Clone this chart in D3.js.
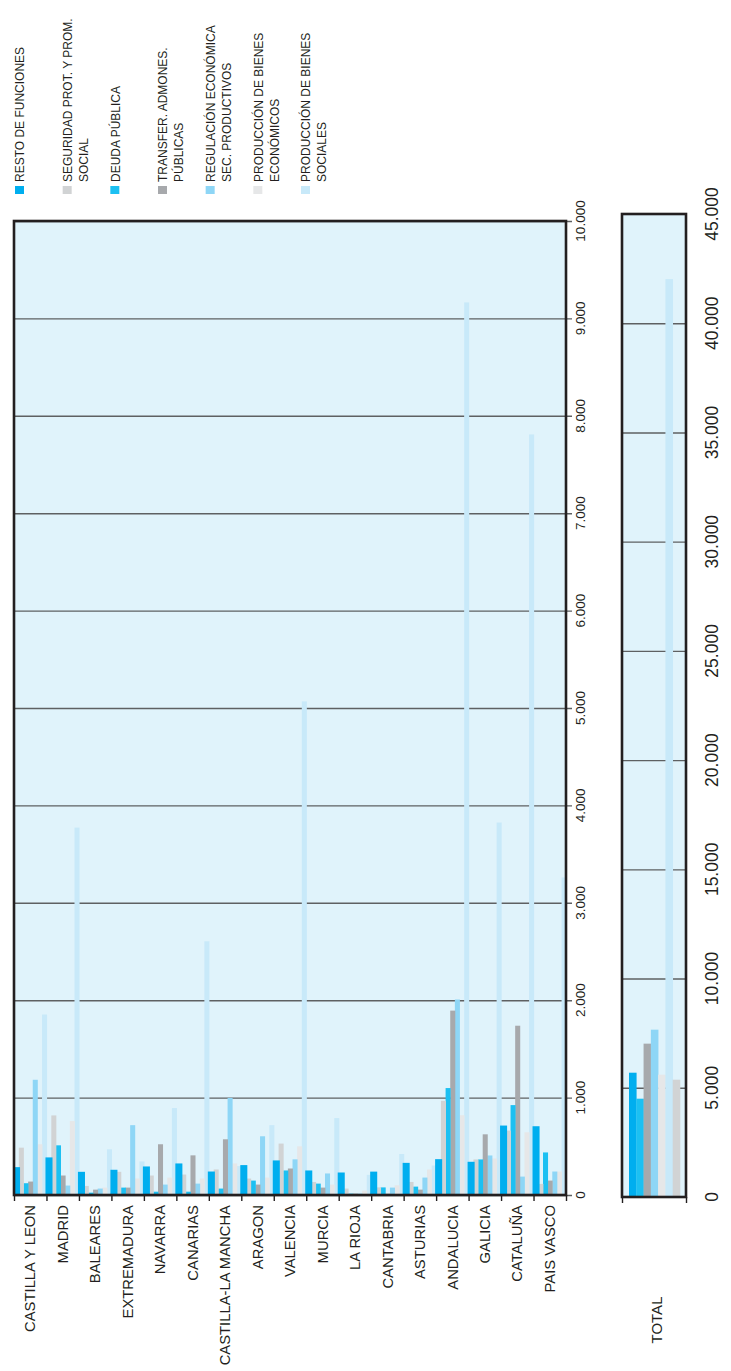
<!DOCTYPE html>
<html>
<head>
<meta charset="utf-8">
<script src="https://cdn.jsdelivr.net/npm/d3@7"></script>
<style>
  body { margin: 0; background: #fff; }
  text { font-family: "Liberation Sans", Arial, sans-serif; fill: #231f20; }
</style>
</head>
<body>
<svg id="chart" width="731" height="1371"></svg>
<script>
// Datos (millones de euros aprox.)
const regiones = ['CASTILLA Y LEON', 'MADRID', 'BALEARES', 'EXTREMADURA', 'NAVARRA', 'CANARIAS',
  'CASTILLA-LA MANCHA', 'ARAGON', 'VALENCIA', 'MURCIA', 'LA RIOJA', 'CANTABRIA', 'ASTURIAS',
  'ANDALUCIA', 'GALICIA', 'CATALUÑA', 'PAIS VASCO'];

const resto      = [286, 386, 238, 259, 293, 324, 241, 307, 355, 252, 231, 240, 330, 368, 341, 713, 706];
const seguridad  = [486, 817, 93, 238, 200, 210, 262, 169, 528, 134, 66, 78, 134, 967, 365, 661, 114];
const deuda      = [121, 510, 24, 76, 34, 34, 66, 148, 252, 117, 14, 78, 86, 1098, 365, 923, 437];
const transfer   = [138, 200, 55, 76, 521, 407, 572, 107, 272, 76, 14, 13, 55, 1893, 623, 1738, 148];
const regulacion = [1183, 97, 66, 717, 107, 117, 997, 603, 366, 221, 14, 76, 179, 2007, 406, 189, 241];
const bienesEcon = [521, 759, 76, 169, 179, 169, 324, 179, 500, 107, 45, 100, 262, 819, 375, 644, 241];
const bienesSoc  = [1853, 3772, 469, 345, 893, 2605, 297, 717, 5068, 790, 207, 421, 303, 9164, 3824, 7809, 3260];

// panel TOTAL (orden de las barras tal como aparece)
const ordenTotal  = ['resto', 'deuda', 'transfer', 'regulacion', 'bienesEcon', 'bienesSoc', 'seguridad'];
const valoresTotal = [5690, 4500, 7020, 7660, 5600, 42020, 5370];

const ticksRegion = [0, 1000, 2000, 3000, 4000, 5000, 6000, 7000, 8000, 9000, 10000];
const ticksTotal  = [0, 5000, 10000, 15000, 20000, 25000, 30000, 35000, 40000, 45000];

const series = [
  { key: 'resto',      lineas: ['RESTO DE FUNCIONES'],                         color: '#00aeef', valores: resto },
  { key: 'seguridad',  lineas: ['SEGURIDAD PROT. Y PROM.', 'SOCIAL'],          color: '#d1d3d4', valores: seguridad },
  { key: 'deuda',      lineas: ['DEUDA PÚBLICA'],                              color: '#1cc0f2', valores: deuda },
  { key: 'transfer',   lineas: ['TRANSFER. ADMONES.', 'PÚBLICAS'],             color: '#a7a9ac', valores: transfer },
  { key: 'regulacion', lineas: ['REGULACIÓN ECONÓMICA', 'SEC. PRODUCTIVOS'],   color: '#8ed6f6', valores: regulacion },
  { key: 'bienesEcon', lineas: ['PRODUCCIÓN DE BIENES', 'ECONÓMICOS'],         color: '#e6e7e8', valores: bienesEcon },
  { key: 'bienesSoc',  lineas: ['PRODUCCIÓN DE BIENES', 'SOCIALES'],           color: '#c8e9f9', valores: bienesSoc }
];
const colorDe = k => series.find(s => s.key === k).color;

const svg = d3.select('#chart');
const fmt = d3.formatLocale({ decimal: ',', thousands: '.', grouping: [3], currency: ['', ''] }).format(',');

const fondo = '#e0f3fb';
const rejilla = '#5e6062';

// ---------- panel regiones ----------
const pr = { left: 14, right: 566, top: 221, bottom: 1195 };

const y = d3.scaleLinear().domain([0, 10000]).range([pr.bottom, pr.top]);
const x0 = d3.scaleBand().domain(regiones).range([pr.left, pr.right]);
const x1 = d3.scaleBand().domain(series.map(s => s.key)).range([0.2, x0.bandwidth() + 0.2]);

svg.append('rect')
  .attr('x', pr.left).attr('y', pr.top)
  .attr('width', pr.right - pr.left).attr('height', pr.bottom - pr.top)
  .attr('fill', fondo);

// rejilla + ticks a la derecha
const gy = svg.append('g')
  .attr('transform', `translate(${pr.right + 6},0)`)
  .call(d3.axisLeft(y).tickValues(ticksRegion).tickSize(pr.right + 6 - pr.left).tickFormat(''));
gy.select('.domain').remove();
gy.selectAll('.tick line').attr('stroke', rejilla).attr('stroke-width', 1.4);

// etiquetas del eje de valores
svg.append('g').selectAll('text').data(ticksRegion).join('text')
  .attr('transform', d => `translate(580,${y(d)}) rotate(-90)`)
  .attr('text-anchor', 'middle')
  .attr('dy', '0.35em')
  .style('font-size', '13.5px')
  .text(d => fmt(d));

// barras
const grupos = svg.append('g').selectAll('g').data(regiones).join('g')
  .attr('transform', d => `translate(${x0(d)},0)`);

grupos.selectAll('rect')
  .data((d, i) => series.map(s => ({ key: s.key, v: s.valores[i], color: s.color })).reverse())
  .join('rect')
  .attr('x', d => d.key === 'resto' ? x1(d.key) - 1.2 : x1(d.key))
  .attr('width', d => d.key === 'resto' ? x1.bandwidth() + 2.4 : x1.bandwidth() + 0.4)
  .attr('y', d => y(d.v))
  .attr('height', d => y(0) - y(d.v))
  .attr('fill', d => d.color);

// ticks inferiores entre regiones
const gx = svg.append('g')
  .attr('transform', `translate(0,${pr.bottom})`)
  .call(d3.axisBottom(d3.scaleLinear().domain([0, regiones.length]).range([pr.left, pr.right]))
    .ticks(regiones.length).tickSize(6).tickFormat(''));
gx.select('.domain').remove();
gx.selectAll('.tick line').attr('stroke', '#231f20').attr('stroke-width', 1.4);

// etiquetas de regiones
svg.append('g').selectAll('text').data(regiones).join('text')
  .attr('transform', d => `translate(${x0(d) + x0.bandwidth() / 2},1205) rotate(-90)`)
  .attr('text-anchor', 'end')
  .attr('dy', '0.35em')
  .style('font-size', '14.8px')
  .text(d => d);

// marco
svg.append('rect')
  .attr('x', pr.left).attr('y', pr.top)
  .attr('width', pr.right - pr.left).attr('height', pr.bottom - pr.top)
  .attr('fill', 'none').attr('stroke', '#231f20').attr('stroke-width', 2.6);

// ---------- panel TOTAL ----------
const pt = { left: 622, right: 686, top: 214, bottom: 1197 };
const yt = d3.scaleLinear().domain([0, 45000]).range([pt.bottom, pt.top]);
const xt = d3.scaleBand().domain(ordenTotal).range([629, 680]);

svg.append('rect')
  .attr('x', pt.left).attr('y', pt.top)
  .attr('width', pt.right - pt.left).attr('height', pt.bottom - pt.top)
  .attr('fill', fondo);

const gyt = svg.append('g')
  .attr('transform', `translate(${pt.right},0)`)
  .call(d3.axisLeft(yt).tickValues(ticksTotal.slice(1, -1)).tickSize(pt.right - pt.left).tickFormat(''));
gyt.select('.domain').remove();
gyt.selectAll('.tick line').attr('stroke', rejilla).attr('stroke-width', 1.4);

svg.append('g').selectAll('rect').data(ordenTotal).join('rect')
  .attr('x', d => xt(d))
  .attr('width', xt.bandwidth() + 0.3)
  .attr('y', (d, i) => yt(valoresTotal[i]))
  .attr('height', (d, i) => yt(0) - yt(valoresTotal[i]))
  .attr('fill', d => colorDe(d));

svg.append('g').selectAll('text').data(ticksTotal).join('text')
  .attr('transform', d => `translate(712,${yt(d)}) rotate(-90)`)
  .attr('text-anchor', 'middle')
  .attr('dy', '0.35em')
  .style('font-size', '17.5px')
  .text(d => fmt(d));

const gxt = svg.append('g')
  .attr('transform', `translate(0,${pt.bottom})`)
  .call(d3.axisBottom(d3.scaleLinear().domain([0, 1]).range([pt.left, pt.right]))
    .tickValues([0, 1]).tickSize(6).tickFormat(''));
gxt.select('.domain').remove();
gxt.selectAll('.tick line').attr('stroke', '#231f20').attr('stroke-width', 1.4);

svg.append('rect')
  .attr('x', pt.left).attr('y', pt.top)
  .attr('width', pt.right - pt.left).attr('height', pt.bottom - pt.top)
  .attr('fill', 'none').attr('stroke', '#231f20').attr('stroke-width', 2.6);

svg.append('text')
  .attr('transform', `translate(657,1320) rotate(-90)`)
  .attr('text-anchor', 'middle')
  .attr('dy', '0.35em')
  .style('font-size', '15px')
  .text('TOTAL');

// ---------- leyenda ----------
const xl = d3.scalePoint().domain(series.map(s => s.key)).range([15, 301]);
const ley = svg.append('g').selectAll('g').data(series).join('g')
  .attr('transform', d => `translate(${xl(d.key)},0)`);

ley.append('rect')
  .attr('x', 0).attr('y', 186).attr('width', 9).attr('height', 8)
  .attr('fill', d => d.color);

ley.each(function (d) {
  d3.select(this).selectAll('text').data(d.lineas).join('text')
    .attr('transform', (t, i) => `translate(${5 + i * 16},182) rotate(-90)`)
    .attr('text-anchor', 'start')
    .attr('dy', '0.35em')
    .style('font-size', '12px')
    .text(t => t);
});
</script>
</body>
</html>
